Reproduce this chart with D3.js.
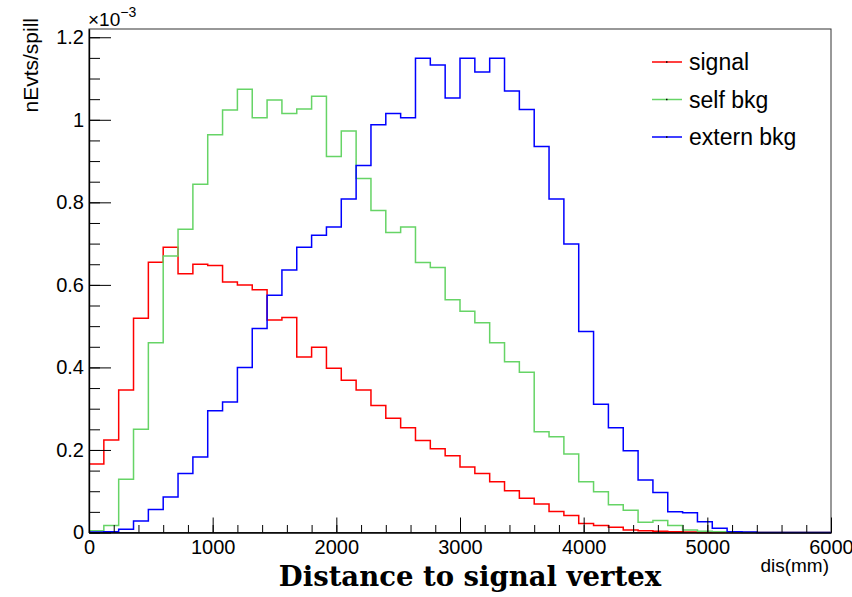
<!DOCTYPE html>
<meta charset="utf-8">
<style>
body { margin: 0; background: #fff; }
.axis text { font-family: "Liberation Sans", Arial, sans-serif; font-size: 20px; fill: #000; }
.axis path, .axis line { stroke: #000; }
</style>
<svg width="852" height="597"></svg>
<script src="https://cdn.jsdelivr.net/npm/d3@7"></script>
<script>

// bin edges: 50 bins of 120 mm, 0..6000
var binWidth = 120;

// values in units of 1e-3 nEvts/spill
var signal = [0.166, 0.224, 0.345, 0.519, 0.655, 0.691, 0.627, 0.650, 0.647, 0.607,
              0.600, 0.588, 0.515, 0.521, 0.425, 0.449, 0.398, 0.369, 0.345, 0.308,
              0.277, 0.254, 0.223, 0.203, 0.186, 0.159, 0.143, 0.123, 0.101, 0.083,
              0.069, 0.051, 0.041, 0.022, 0.017, 0.013, 0.006, 0.004, 0.003, 0.002,
              0.001, 0, 0, 0, 0, 0, 0, 0, 0, 0];
var selfBkg = [0.004, 0.017, 0.129, 0.250, 0.460, 0.670, 0.735, 0.844, 0.964, 1.024,
               1.074, 1.005, 1.048, 1.015, 1.026, 1.057, 0.911, 0.973, 0.858, 0.780,
               0.727, 0.740, 0.654, 0.642, 0.564, 0.536, 0.508, 0.460, 0.414, 0.388,
               0.244, 0.232, 0.190, 0.123, 0.099, 0.067, 0.054, 0.025, 0.029, 0.017,
               0.006, 0.003, 0.002, 0.001, 0, 0, 0, 0, 0, 0];
var externBkg = [0.001, 0.002, 0.008, 0.028, 0.056, 0.086, 0.143, 0.183, 0.295, 0.316,
                 0.400, 0.494, 0.575, 0.636, 0.691, 0.720, 0.740, 0.808, 0.889, 0.988,
                 1.015, 1.005, 1.149, 1.133, 1.053, 1.149, 1.116, 1.149, 1.070, 1.025,
                 0.935, 0.808, 0.699, 0.487, 0.311, 0.254, 0.198, 0.127, 0.097, 0.050,
                 0.048, 0.026, 0.010, 0.002, 0.001, 0, 0, 0, 0, 0];

var seriesNames = ["signal", "self bkg", "extern bkg"];
var seriesColors = ["#ff0000", "#66d466", "#0000ff"];
var seriesData = [signal, selfBkg, externBkg];

var xMajor = [0, 1000, 2000, 3000, 4000, 5000, 6000];
var yMajor = [0, 0.2, 0.4, 0.6, 0.8, 1, 1.2];

var svg = d3.select("svg"),
    frame = {left: 89, right: 831, top: 29, bottom: 532.5};

var x = d3.scaleLinear().domain([0, 6000]).range([frame.left, frame.right]),
    y = d3.scaleLinear().domain([0, 1.22]).range([frame.bottom, frame.top]);

// frame
svg.append("rect")
    .attr("x", frame.left).attr("y", frame.top)
    .attr("width", frame.right - frame.left)
    .attr("height", frame.bottom - frame.top)
    .attr("fill", "none")
    .attr("stroke", "#333")
    .attr("stroke-width", 1);

// histograms
var line = d3.line()
    .x(function(d) { return x(d[0]); })
    .y(function(d) { return y(d[1]); })
    .curve(d3.curveStepAfter);

seriesData.forEach(function(vals, k) {
  var pts = vals.map(function(v, i) { return [i * binWidth, v]; });
  pts.push([vals.length * binWidth, vals[vals.length - 1]]);
  svg.append("path")
      .datum(pts)
      .attr("fill", "none")
      .attr("stroke", seriesColors[k])
      .attr("stroke-width", 1.5)
      .attr("d", line);
});

// x axis
svg.append("g")
    .attr("class", "axis")
    .attr("transform", "translate(0," + frame.bottom + ")")
    .call(d3.axisBottom(x).tickValues(d3.range(0, 6001, 200)).tickSize(-7.5).tickSizeOuter(0).tickFormat(""));
svg.append("g")
    .attr("class", "axis")
    .attr("transform", "translate(0," + frame.bottom + ")")
    .call(d3.axisBottom(x).tickValues(xMajor).tickSize(-15).tickSizeOuter(0).tickPadding(7).tickFormat(d3.format("d")));

// y axis
svg.append("g")
    .attr("class", "axis")
    .attr("transform", "translate(" + frame.left + ",0)")
    .call(d3.axisLeft(y).tickValues(d3.range(0, 1.21, 0.05)).tickSize(-11).tickSizeOuter(0).tickFormat(""));
svg.append("g")
    .attr("class", "axis")
    .attr("transform", "translate(" + frame.left + ",0)")
    .call(d3.axisLeft(y).tickValues(yMajor).tickSize(-22).tickSizeOuter(0).tickPadding(5)
      .tickFormat(function(d) { return d3.format("~g")(d); }));

svg.selectAll(".axis .domain").attr("stroke-width", 1.2);

// exponent label
var expo = svg.append("text")
    .attr("x", 88).attr("y", 26)
    .style("font-family", "Liberation Sans, Arial, sans-serif")
    .style("font-size", "19px");
expo.append("tspan").text("\u00d710");
expo.append("tspan").attr("dy", -9).style("font-size", "14px").text("\u22123");

// axis titles
svg.append("text")
    .attr("transform", "translate(38,18) rotate(-90)")
    .attr("text-anchor", "end")
    .style("font-family", "Liberation Sans, Arial, sans-serif")
    .style("font-size", "21px")
    .text("nEvts/spill");

svg.append("text")
    .attr("x", 829).attr("y", 572)
    .attr("text-anchor", "end")
    .style("font-family", "Liberation Sans, Arial, sans-serif")
    .style("font-size", "19px")
    .text("dis(mm)");

svg.append("text")
    .attr("x", 470).attr("y", 586)
    .attr("text-anchor", "middle")
    .style("font-family", "DejaVu Serif, serif")
    .style("font-weight", "bold")
    .style("font-size", "27.5px")
    .text("Distance to signal vertex");

// legend
var legend = svg.selectAll(".legend")
    .data(seriesNames)
  .enter().append("g")
    .attr("class", "legend")
    .attr("transform", function(d, i) { return "translate(652," + (62 + i * 37.5) + ")"; });

legend.append("line")
    .attr("x1", 0).attr("x2", 30)
    .attr("stroke", function(d, i) { return seriesColors[i]; })
    .attr("stroke-width", 1.5);
legend.append("rect")
    .attr("x", 14).attr("y", -0.75).attr("width", 1.5).attr("height", 1.5)
    .attr("fill", "#000");
legend.append("text")
    .attr("x", 37).attr("dy", "0.35em")
    .style("font-family", "Liberation Sans, Arial, sans-serif")
    .style("font-size", "23px")
    .text(function(d) { return d; });

</script>
